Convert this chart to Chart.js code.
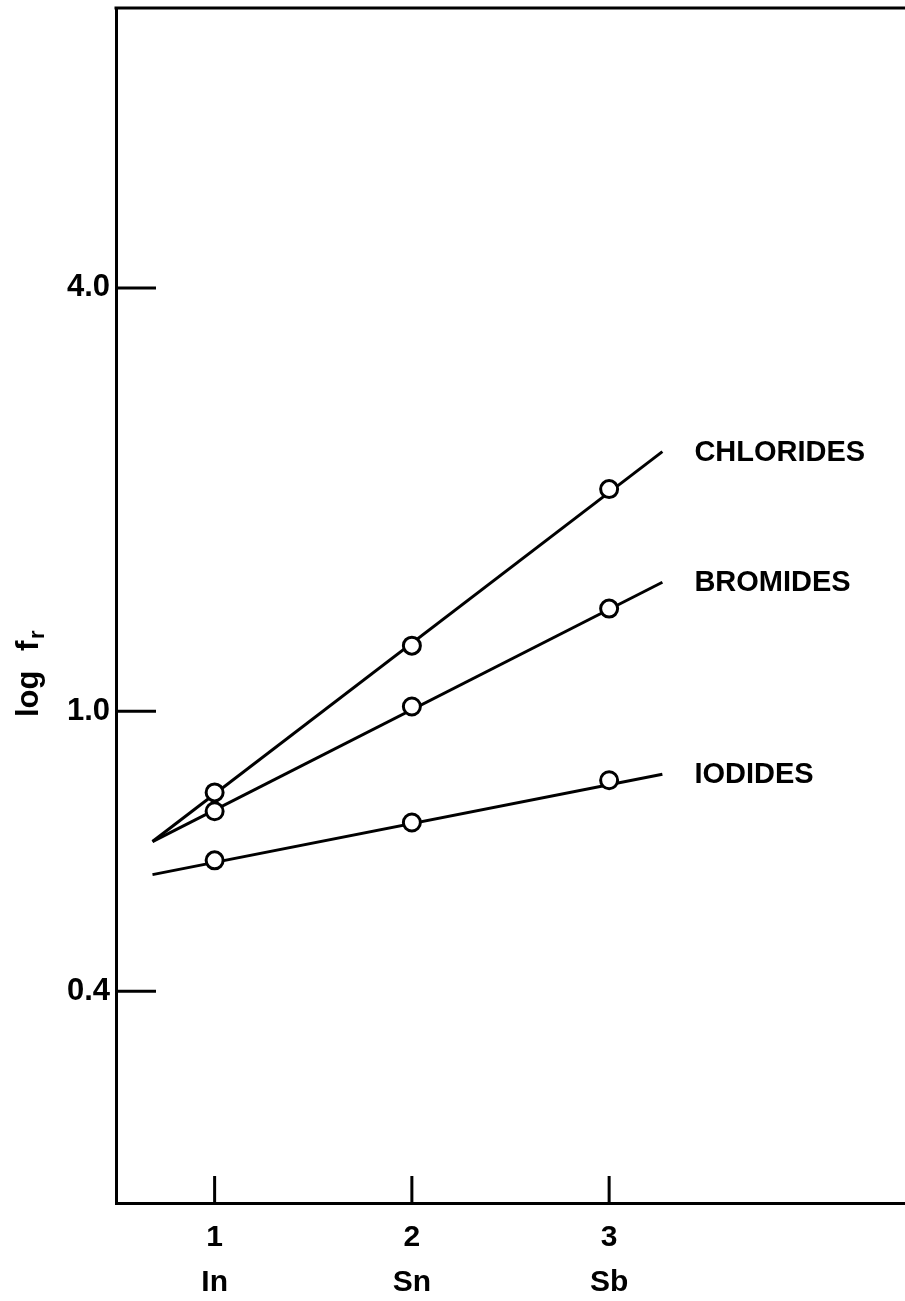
<!DOCTYPE html>
<html>
<head>
<meta charset="utf-8">
<title>log fr</title>
<script src="https://cdn.jsdelivr.net/npm/chart.js@4.4.1/dist/chart.umd.min.js"></script>
<style>
  html, body { margin: 0; padding: 0; background: #fff; overflow: hidden; }
  .chart { width: 905px; height: 1301px; position: relative; }
</style>
</head>
<body>
<div class="chart"><canvas id="myChart"></canvas></div>
<script>
const metalLabels = ["In", "Sn", "Sb"];
const metalX = [1, 2, 3];
const chlorides = [0.767, 1.24, 2.07];
const bromides = [0.721, 1.016, 1.40];
const iodides = [0.614, 0.695, 0.798];

// straight lines through the points, ends
const fitX = [0.685, 3.27];
const chloridesFit = [0.653, 2.34];
const bromidesFit = [0.653, 1.526];
const iodidesFit = [0.586, 0.814];

const seriesNames = ["CHLORIDES", "BROMIDES", "IODIDES"];
const yTicks = [0.4, 1.0, 4.0];
const yTickLabels = ["0.4", "1.0", "4.0"];

const FONT = "'Liberation Sans', Arial, sans-serif";
const INK = "#000";

const toPoints = (xs, ys) => xs.map((x, i) => ({ x: x, y: ys[i] }));

const pointSet = (ys) => ({
  data: toPoints(metalX, ys),
  showLine: false,
  pointRadius: 8.5,
  pointBorderWidth: 3,
  pointBorderColor: INK,
  pointBackgroundColor: "#fff",
  order: 0,
});

const lineSet = (ys) => ({
  data: toPoints(fitX, ys),
  showLine: true,
  borderColor: INK,
  borderWidth: 3,
  pointRadius: 0,
  order: 1,
});

// chart.js keeps room for half a label at each end; not wanted here
const noEndPadding = (scale) => {
  scale.paddingTop = 0;
  scale.paddingBottom = 0;
  scale.paddingLeft = 0;
  scale.paddingRight = 0;
};

// top edge of the frame, ticks pointing into the plot, series names, axis title
const decorations = {
  id: "decorations",
  afterDraw(chart) {
    const ctx = chart.ctx;
    const area = chart.chartArea;
    const xs = chart.scales.x;
    const ys = chart.scales.y;
    ctx.save();
    ctx.strokeStyle = INK;
    ctx.fillStyle = INK;
    ctx.lineWidth = 3;

    ctx.beginPath();
    ctx.moveTo(area.left - 1.5, area.top);
    ctx.lineTo(area.right, area.top);
    ctx.stroke();

    yTicks.forEach((v) => {
      const py = ys.getPixelForValue(v);
      ctx.beginPath();
      ctx.moveTo(area.left, py);
      ctx.lineTo(area.left + 40, py);
      ctx.stroke();
    });
    metalX.forEach((v) => {
      const px = xs.getPixelForValue(v);
      ctx.beginPath();
      ctx.moveTo(px, area.bottom);
      ctx.lineTo(px, area.bottom - 27);
      ctx.stroke();
    });

    ctx.font = "bold 29px " + FONT;
    ctx.textAlign = "left";
    ctx.textBaseline = "middle";
    [chloridesFit, bromidesFit, iodidesFit].forEach((fit, i) => {
      const px = xs.getPixelForValue(fitX[1]);
      const py = ys.getPixelForValue(fit[1]);
      ctx.fillText(seriesNames[i], px + 32, py + 1);
    });

    ctx.translate(38, 717);
    ctx.rotate(-Math.PI / 2);
    ctx.textBaseline = "alphabetic";
    ctx.font = "bold 31px " + FONT;
    ctx.fillText("log", 0, 0);
    ctx.fillText("f", 66, 0);
    ctx.font = "bold 22px " + FONT;
    ctx.fillText("r", 78, 6);
    ctx.restore();
  },
};

new Chart(document.getElementById("myChart"), {
  type: "scatter",
  data: {
    datasets: [
      pointSet(chlorides),
      pointSet(bromides),
      pointSet(iodides),
      lineSet(chloridesFit),
      lineSet(bromidesFit),
      lineSet(iodidesFit),
    ],
  },
  options: {
    responsive: true,
    maintainAspectRatio: false,
    animation: false,
    layout: { autoPadding: false, padding: { top: 8, right: 0, left: 0, bottom: 0 } },
    plugins: {
      legend: { display: false },
      tooltip: { enabled: false },
    },
    scales: {
      x: {
        type: "linear",
        min: 0.5,
        max: 4.5,
        afterBuildTicks: (scale) => {
          scale.ticks = metalX.map((v) => ({ value: v }));
        },
        afterFit: (scale) => {
          scale.height = 98;
          noEndPadding(scale);
        },
        grid: { display: false, drawTicks: false },
        border: { display: true, color: INK, width: 3 },
        ticks: {
          color: INK,
          padding: 12,
          maxRotation: 0,
          font: { family: FONT, size: 30, weight: "bold", lineHeight: 1.5 },
          callback: (value) => {
            const i = metalX.indexOf(value);
            return i < 0 ? "" : [String(value), metalLabels[i]];
          },
        },
      },
      y: {
        type: "logarithmic",
        min: 0.2,
        max: 10,
        afterBuildTicks: (scale) => {
          scale.ticks = yTicks.map((v) => ({ value: v }));
        },
        afterFit: (scale) => {
          scale.width = 116;
          noEndPadding(scale);
        },
        grid: { display: false, drawTicks: false },
        border: { display: true, color: INK, width: 3 },
        ticks: {
          color: INK,
          padding: 6,
          font: { family: FONT, size: 31, weight: "bold" },
          callback: (value) => {
            const i = yTicks.indexOf(value);
            return i < 0 ? "" : yTickLabels[i];
          },
        },
      },
    },
  },
  plugins: [decorations],
});
</script>
</body>
</html>
